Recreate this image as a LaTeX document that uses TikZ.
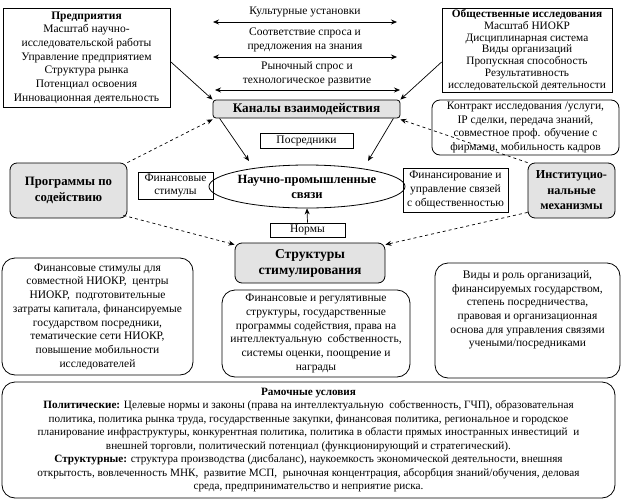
\documentclass[tikz,border=0pt]{standalone}
\usepackage{fontspec}
\setmainfont{Liberation Serif}
\usetikzlibrary{arrows.meta,shapes.geometric}
\begin{document}
\begin{tikzpicture}[x=1pt,y=-1pt,
  every node/.style={font=\fontsize{11.5}{13.7}\selectfont, inner sep=1pt},
  sq/.style={draw, line width=0.8pt, align=center},
  gr/.style={draw, line width=0.8pt, align=center, fill=gray!22, rounded corners=7pt, font=\fontsize{12.8}{15.5}\selectfont\bfseries},
  rb/.style={draw, line width=0.8pt, align=center, rounded corners=13pt},
  sol/.style={line width=0.7pt, -{Stealth[length=6pt,width=5pt]}},
  dsh/.style={line width=0.7pt, dashed, -{Stealth[length=6pt,width=5pt]}},
  dbl/.style={line width=0.7pt, {Stealth[length=6pt,width=5pt]}-{Stealth[length=6pt,width=5pt]}}]
\useasboundingbox (0,0) rectangle (622,501);

% top left box
\node[sq, minimum width=167, minimum height=99] (pred) at (86.5,57.5)
 {\textbf{Предприятия}\\Масштаб научно-\\исследовательской работы\\Управление предприятием\\Структура рынка\\Потенциал освоения\\Инновационная деятельность};

% top right box
\node[sq, minimum width=170, minimum height=84, font=\fontsize{11.3}{11.9}\selectfont] (obsh) at (527,50)
 {\textbf{Общественные исследования}\\Масштаб НИОКР\\Дисциплинарная система\\Виды организаций\\Пропускная способность\\Результативность\\исследовательской деятельности};

% top middle texts with double arrows
\node[align=center] (kult) at (305,12) {Культурные установки};
\coordinate (a1l) at (213,22); \coordinate (a1r) at (397,22);
\node[align=center] (sootv) at (305,40) {Соответствие спроса и\\предложения на знания};
\coordinate (a2l) at (213,57); \coordinate (a2r) at (397,57);
\node[align=center] (ryn) at (307,73.5) {Рыночный спрос и\\технологическое развитие};
\coordinate (a3l) at (215,90); \coordinate (a3r) at (400,90);
\draw[dbl] (a1l) -- (a1r);
\draw[dbl] (a2l) -- (a2r);
\draw[dbl] (a3l) -- (a3r);

% channels
\node[draw, line width=0.8pt, fill=gray!22, rounded corners=3pt, minimum width=187, minimum height=18, font=\fontsize{13.2}{15}\selectfont\bfseries] (kanaly) at (306.5,109) {Каналы взаимодействия};

% contract box
\node[draw, line width=0.8pt, align=center, rounded corners=8pt, minimum width=187, minimum height=55] (contr) at (525.5,127.5)
 {Контракт исследования /услуги,\\IP сделки, передача знаний,\\совместное проф. обучение с\\фирмами, мобильность кадров};

% programs
\node[gr, minimum width=117, minimum height=55] (prog) at (68.5,190.5) {Программы по\\содействию};
\node[sq, minimum width=75, minimum height=27] (finst) at (175.5,185.5) {Финансовые\\стимулы};
\node[sq, minimum width=93, minimum height=15] (posr) at (306.5,140.5) {Посредники};
\node[draw, line width=0.8pt, ellipse, minimum width=180, minimum height=43, align=center, inner sep=0pt, font=\fontsize{12.6}{15}\selectfont\bfseries] (ell) at (307,186.5) {Научно-промышленные\\связи};
\node[sq, minimum width=105, minimum height=44] (finupr) at (455.5,190) {Финансирование и\\управление связей\\с общественностью};
\node[gr, minimum width=87, minimum height=55, font=\fontsize{12.2}{15.5}\selectfont\bfseries] (inst) at (571.5,190.5) {Институцио-\\нальные\\механизмы};
\node[sq, minimum width=75, minimum height=14] (normy) at (307.5,230) {Нормы};
\node[gr, minimum width=150, minimum height=40, font=\fontsize{13.6}{16}\selectfont\bfseries] (strukt) at (310,263) {Структуры\\стимулирования};

% bottom boxes
\node[rb, minimum width=191, minimum height=117] (lb) at (97.5,316.5)
 {Финансовые стимулы для\\совместной НИОКР,~ центры\\НИОКР,~ подготовительные\\затраты капитала, финансируемые\\государством посредники,\\тематические сети НИОКР,\\повышение мобильности\\исследователей};
\node[rb, minimum width=188, minimum height=87] (mb) at (316,333.5)
 {Финансовые и регулятивные\\структуры, государственные\\программы содействия, права на\\интеллектуальную~ собственность,\\системы оценки, поощрение и\\награды};
\node[rb, minimum width=185, minimum height=115] (rb) at (527.5,320.5)
 {Виды и роль организаций,\\финансируемых государством,\\степень посредничества,\\правовая и организационная\\основа для управления связями\\учеными/посредниками\\[10pt]};

\node[rb, minimum width=613, minimum height=116, font=\fontsize{11.2}{13.5}\selectfont] (ram) at (308.5,440)
 {\textbf{Рамочные условия}\\
 \textbf{Политические:} Целевые нормы и законы (права на интеллектуальную~ собственность, ГЧП), образовательная\\
 политика, политика рынка труда, государственные закупки, финансовая политика, региональное и городское\\
 планирование инфраструктуры, конкурентная политика, политика в области прямых иностранных инвестиций~ и\\
 внешней торговли, политический потенциал (функционирующий и стратегический).\\
 \textbf{Структурные:} структура производства (дисбаланс), наукоемкость экономической деятельности, внешняя\\
 открытость, вовлеченность МНК,~ развитие МСП,~ рыночная концентрация, абсорбция знаний/обучения, деловая\\
 среда, предпринимательство и неприятие риска.};

% connectors
\coordinate (t1) at (249,161);
\coordinate (t2) at (368,161);
\draw[sol] ([yshift=-4pt]pred.east) -- (kanaly.north west);
\draw[sol] ([yshift=-12pt]obsh.west) -- (kanaly.north east);
\draw[dsh] (prog.north east) -- ([yshift=-1pt]kanaly.south west);
\draw[dsh] (inst.north west) -- ([yshift=-1pt]kanaly.south east);
\draw[sol] ([xshift=7pt]kanaly.south west) -- (t1);
\draw[sol] ([xshift=-7pt]kanaly.south east) -- (t2);
\draw[sol] (normy.north) -- (ell.south);
\draw[dsh] ([xshift=-4pt,yshift=3pt]prog.south east) -- ([yshift=-2pt]strukt.north west);
\draw[dsh] ([yshift=6pt]inst.south west) -- ([yshift=-2pt]strukt.north east);
\end{tikzpicture}
\end{document}
